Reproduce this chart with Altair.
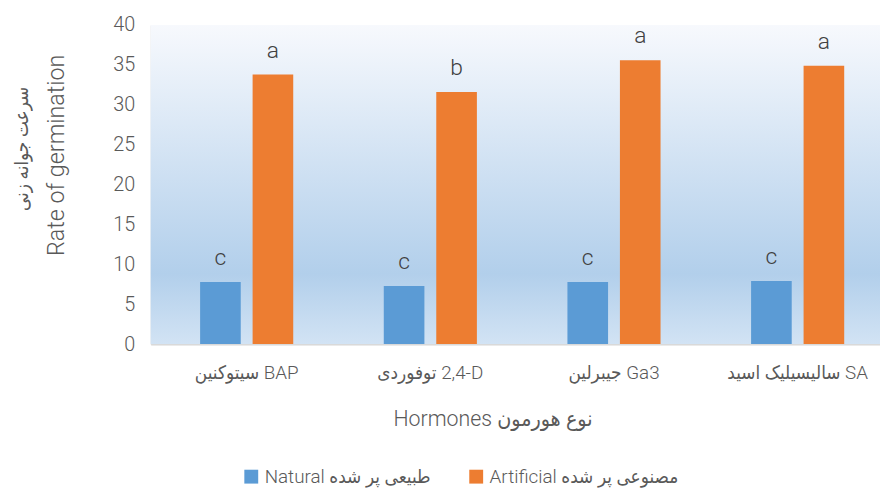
import altair as alt
import pandas as pd

hormones = ["سیتوکنین BAP", "توفوردی \u200e2,4-D", "جیبرلین Ga3", "سالیسیلیک اسید SA"]
series = ["Natural طبیعی پر شده", "Artificial مصنوعی پر شده"]
natural = [7.8, 7.3, 7.8, 7.9]
artificial = [33.8, 31.6, 35.6, 34.9]
natural_letters = ["c", "c", "c", "c"]
artificial_letters = ["a", "b", "a", "a"]
y_ticks = [0, 5, 10, 15, 20, 25, 30, 35, 40]

rows = []
for i, h in enumerate(hormones):
    rows.append({"hormone": h, "series": series[0], "value": natural[i], "letter": natural_letters[i]})
    rows.append({"hormone": h, "series": series[1], "value": artificial[i], "letter": artificial_letters[i]})
df = pd.DataFrame(rows)

FONT = "Roboto, DejaVu Sans Condensed, DejaVu Sans"
GREY = "#595959"

gradient = {
    "gradient": "linear", "x1": 0, "y1": 0, "x2": 0, "y2": 1,
    "stops": [
        {"offset": 0, "color": "#f7f9fd"},
        {"offset": 0.78, "color": "#b2cfeb"},
        {"offset": 1, "color": "#d2e3f4"},
    ],
}

bg = alt.Chart(pd.DataFrame({"k": [0]})).mark_rect(fill=gradient, strokeWidth=0).encode(
    x=alt.value(0), x2=alt.value("width"), y=alt.value(0), y2=alt.value("height")
)

x_enc = alt.X(
    "hormone:N", sort=hormones,
    scale=alt.Scale(paddingInner=0.493, paddingOuter=0.232, align=0.58),
    axis=alt.Axis(
        title="Hormones نوع هورمون", labelAngle=0, ticks=False, labelPadding=20,
        domainColor="#d9d9d9", domainWidth=2, titlePadding=26, titleX=345,
        labelFontSize=19, titleFontSize=21.5, labelColor=GREY, titleColor=GREY,
        labelFont=FONT, titleFont=FONT, titleFontWeight=300, labelFontWeight=300,
        labelLimit=0,
    ),
)
xo_enc = alt.XOffset("series:N", sort=series, scale=alt.Scale(paddingInner=0.226))
y_enc = alt.Y(
    "value:Q", scale=alt.Scale(domain=[0, 40]),
    axis=alt.Axis(
        values=y_ticks, title="Rate of germination", grid=False, domain=False, ticks=False,
        labelPadding=16, labelFontSize=20, titleFontSize=23.5, labelColor=GREY,
        titleColor=GREY, labelFont=FONT, titleFont=FONT, titleFontWeight=300,
        labelFontWeight=300, titleY=131, titleX=-83,
    ),
)

bars = alt.Chart(df).mark_bar().encode(
    x=x_enc, xOffset=xo_enc, y=y_enc,
    color=alt.Color(
        "series:N", sort=series,
        scale=alt.Scale(domain=series, range=["#5b9bd5", "#ed7d31"]),
        legend=alt.Legend(
            orient="none", legendX=92, legendY=446, direction="horizontal",
            title=None, symbolType="square", symbolSize=196,
            labelFontSize=19, labelColor=GREY, labelFont=FONT, labelFontWeight=300,
            labelLimit=0, columnPadding=36, symbolStrokeWidth=0, labelOffset=4,
        ),
    ),
)

letters = alt.Chart(df).mark_text(
    dy=-17, baseline="alphabetic", fontSize=23, color="#404040", font=FONT, fontWeight=300
).encode(x=x_enc, xOffset=xo_enc, y=y_enc, text="letter:N")

chart = alt.layer(bg, bars, letters).properties(
    width=736, height=322,
    padding={"left": 4, "top": 5, "right": 0, "bottom": 0},
    title=alt.TitleParams(
        "سرعت جوانه زنی", orient="left", fontSize=19, color=GREY,
        font=FONT, fontWeight="normal", dx=36, offset=13,
    ),
).configure_view(stroke=None).configure(background="white")

chart.save("out.html", embed_options={"renderer": "svg", "actions": False})
